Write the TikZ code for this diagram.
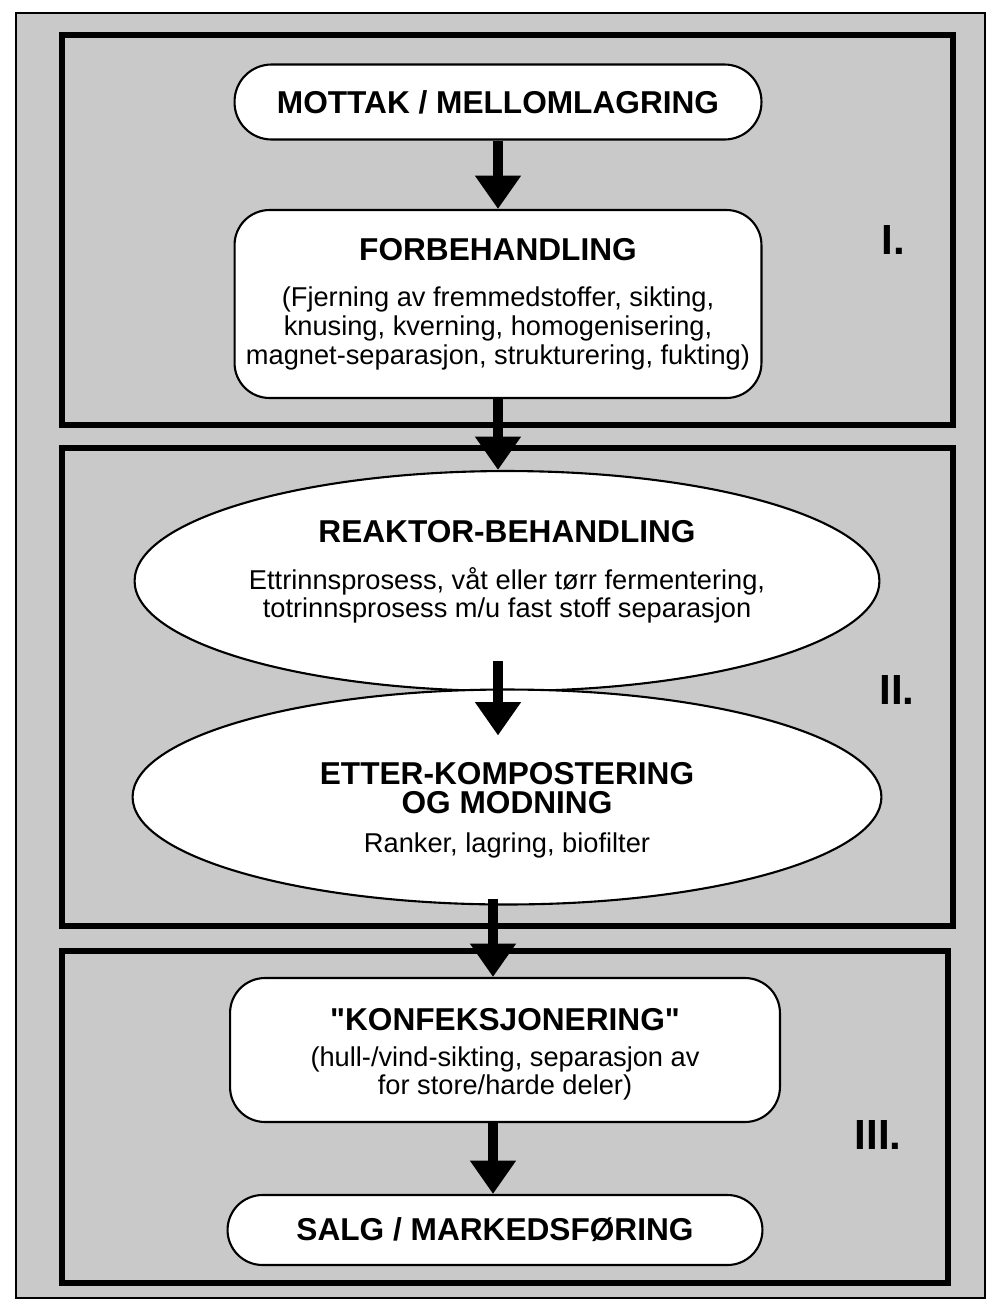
\documentclass[tikz,border=0pt]{standalone}
\usepackage{fontspec}
\setmainfont{Liberation Sans}[Ligatures=TeXOff]
\usetikzlibrary{shapes.geometric, arrows.meta}

\definecolor{panel}{gray}{0.79}
\newcommand{\steptitle}[1]{{\fontsize{18}{20}\selectfont\bfseries #1}}

\begin{document}
\begin{tikzpicture}[x=0.02cm, y=-0.02cm,
        box/.style={draw, line width=1.2pt, fill=white, rounded corners=0.7cm, align=center,
            inner sep=0pt, font=\fontsize{15.5}{16.4}\selectfont},
        oval/.style={ellipse, draw, line width=1.2pt, fill=white, align=center,
            inner sep=0pt, font=\fontsize{15.5}{16.4}\selectfont},
        frame/.style={draw, line width=3.5pt},
        flow/.style={line width=6.2pt, -{Triangle[width=25pt, length=19pt]}},
        roman/.style={font=\fontsize{24}{28}\selectfont\bfseries}]
        \useasboundingbox (0,0) rectangle (990,1309);
        \filldraw[fill=panel, line width=1.2pt] (16,13) rectangle (985,1298);

        % the three stages
        \draw[frame] (62,35) rectangle (953,425);
        \draw[frame] (62,448) rectangle (953,926);
        \draw[frame] (62,951) rectangle (948,1283);

        \node[box, rounded corners=0.74cm, minimum width=10.54cm, minimum height=1.5cm] (mottak) at (498,102)
            {\steptitle{MOTTAK / MELLOMLAGRING}};
        \node[box, minimum width=10.54cm, minimum height=3.76cm] (forb) at (498,304)
            {\steptitle{FORBEHANDLING}\\[10pt]
            (Fjerning av fremmedstoffer, sikting,\\
            knusing, kverning, homogenisering,\\
            magnet-separasjon, strukturering, fukting)};
        \node[oval, minimum width=14.9cm, minimum height=4.4cm] (reaktor) at (507,581)
            {\steptitle{REAKTOR-BEHANDLING}\\[10pt]
            Ettrinnsprosess, våt eller tørr fermentering,\\
            totrinnsprosess m/u fast stoff separasjon\rule[-13.4pt]{0pt}{1pt}};
        \node[oval, minimum width=14.98cm, minimum height=4.3cm] (etter) at (507,797)
            {\steptitle{\rule{0pt}{27.7pt}ETTER-KOMPOSTERING}\\
            \steptitle{OG MODNING}\\[6pt]
            Ranker, lagring, biofilter};
        \node[box, minimum width=11cm, minimum height=2.88cm] (konf) at (505,1050)
            {\steptitle{\rule{0pt}{17.5pt}"KONFEKSJONERING"}\\[4pt]
            (hull-/vind-sikting, separasjon av\\
            for store/harde deler)};
        \node[box, minimum width=10.7cm, minimum height=1.4cm] (salg) at (495,1230)
            {\steptitle{SALG / MARKEDSFØRING}};

        \node[roman] (one) at (893,240) {I.};
        \node[roman] (two) at (897,690) {II.};
        \node[roman] (three) at (878,1135) {III.};

        \coordinate (spine) at (493,0);
        \draw[flow] (mottak.south) -- (mottak.south |- forb.north);
        \draw[flow] (forb.south) -- (forb.south |- reaktor.north);
        \draw[flow] ([yshift=0.62cm]reaktor.south -| forb.south) -- ([yshift=-0.94cm]etter.north -| forb.south);
        \draw[flow] ([yshift=0.14cm]etter.south -| spine) -- (konf.north -| spine);
        \draw[flow] (konf.south -| spine) -- (salg.north -| spine);
    \end{tikzpicture}
\end{document}
